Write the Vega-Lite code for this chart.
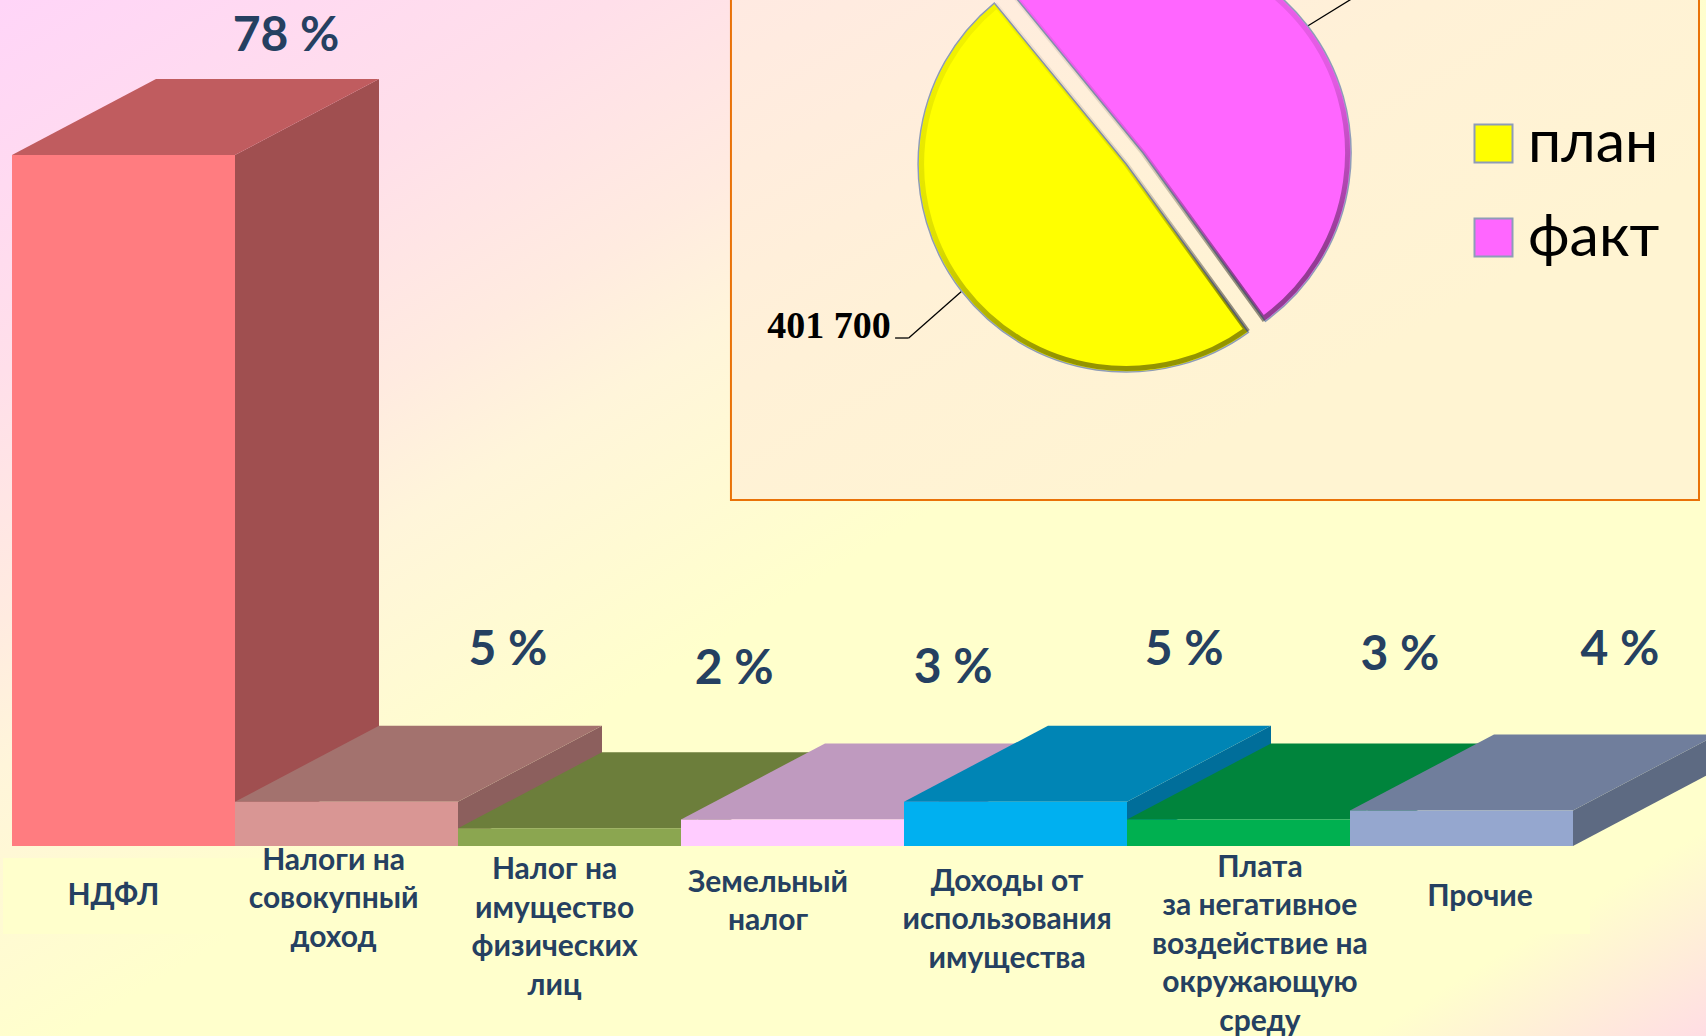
{
"$schema":"https://vega.github.io/schema/vega-lite/v6.json",
"width":1706,"height":1036,"padding":0,"autosize":{"type":"none"},
"background":"#FFFFCC",
"config":{"view":{"stroke":null},"axis":{"disable":true}},
"datasets":{
"bars":[
{"category":"НДФЛ","share":78,"order":0},
{"category":"Налоги на совокупный доход","share":5,"order":1},
{"category":"Налог на имущество физических лиц","share":2,"order":2},
{"category":"Земельный налог","share":3,"order":3},
{"category":"Доходы от использования имущества","share":5,"order":4},
{"category":"Плата за негативное воздействие на окружающую среду","share":3,"order":5},
{"category":"Прочие","share":4,"order":6}],
"names":[
{"text":["НДФЛ"],"at":0.455,"level":-5.64},
{"text":["Налоги на","совокупный","доход"],"at":1.442,"level":-1.66},
{"text":["Налог на","имущество","физических","лиц"],"at":2.433,"level":-2.71},
{"text":["Земельный","налог"],"at":3.39,"level":-4.14},
{"text":["Доходы от","использования","имущества"],"at":4.462,"level":-4.03},
{"text":["Плата","за негативное","воздействие на","окружающую","среду"],"at":5.596,"level":-2.45},
{"text":["Прочие"],"at":6.583,"level":-5.72}],
"percents":[
{"text":"78 %","at":1.229,"level":91.35},
{"text":"5 %","at":2.224,"level":22.05},
{"text":"2 %","at":3.238,"level":19.85},
{"text":"3 %","at":4.22,"level":19.95},
{"text":"5 %","at":5.256,"level":22.05},
{"text":"3 %","at":6.224,"level":21.5},
{"text":"4 %","at":7.21,"level":22.05}],
"pie":[{"series":"план","value":401700},{"series":"факт","value":416800}],
"leaders":[
{"a":4.26,"b":62.64,"a2":4.021,"b2":57.34},
{"a":4.021,"b":57.34,"a2":3.96,"b2":57.34},
{"a":5.803,"b":92.44,"a2":6.09,"b2":96.9}]
},
"data":{"name":"bars"},
"resolve":{"scale":{"color":"independent"}},
"layer":[
{"data":{"values":[{"a":-0.0538,"a2":7.5964,"b":-21.44,"b2":95.49}]},
 "mark":{"type":"rect","fill":{"gradient":"linear","x1":0,"y1":0,"x2":1,"y2":1,"stops":[
  {"offset":0,"color":"#FFD5F8"},{"offset":0.18,"color":"#FFDFEA"},{"offset":0.3,"color":"#FFEBE0"},{"offset":0.37,"color":"#FFF5DA"},{"offset":0.52,"color":"#FFFFCC"},{"offset":0.9,"color":"#FFFFCC"},{"offset":1,"color":"#FFDDE4"}]}},
 "encoding":{
  "x":{"field":"a","type":"quantitative","axis":null,"scale":{"domain":[-0.0538,7.5964],"nice":false,"zero":false}},
  "x2":{"field":"a2"},
  "y":{"field":"b","type":"quantitative","axis":null,"scale":{"domain":[-21.44,95.49],"nice":false,"zero":false}},
  "y2":{"field":"b2"}}},
{"data":{"values":[{"a":-0.04,"a2":7.076,"b":-9.93,"b2":-1.35}]},
 "mark":{"type":"rect","fill":"#FFFFCC"},
 "encoding":{"x":{"field":"a","type":"quantitative"},"x2":{"field":"a2"},"y":{"field":"b","type":"quantitative"},"y2":{"field":"b2"}}},
{"data":{"values":[{"a":3.224,"a2":7.565,"b":39.05,"b2":100}]},
 "mark":{"type":"rect","stroke":"#E97208","strokeWidth":2,"clip":true,"fill":{"gradient":"linear","x1":0,"y1":0,"x2":1,"y2":1,"stops":[{"offset":0,"color":"#FFE9E3"},{"offset":0.4,"color":"#FFF1D7"},{"offset":0.7,"color":"#FFF4D2"},{"offset":1,"color":"#FFF4D2"}]}},
 "encoding":{"x":{"field":"a","type":"quantitative"},"x2":{"field":"a2"},"y":{"field":"b","type":"quantitative"},"y2":{"field":"b2"}}},
{"transform":[{"calculate":"[0,1]","as":"t"},{"flatten":["t"]},
  {"calculate":"datum.order+1+datum.t*0.6457","as":"sx"},
  {"calculate":"datum.share+datum.t*8.578","as":"sy"},
  {"calculate":"datum.t*8.578","as":"sy0"}],
 "mark":{"type":"area","orient":"vertical","clip":true},
 "encoding":{
  "x":{"field":"sx","type":"quantitative"},
  "y":{"field":"sy","type":"quantitative"},
  "y2":{"field":"sy0"},
  "color":{"field":"category","type":"nominal","legend":null,"sort":null,"scale":{"domain":["НДФЛ","Налоги на совокупный доход","Налог на имущество физических лиц","Земельный налог","Доходы от использования имущества","Плата за негативное воздействие на окружающую среду","Прочие"],"range":["#A04F50","#8C5F5D","#5A6A32","#A081A0","#006E9A","#006E32","#5D6A82"]}}}},
{"transform":[{"calculate":"[0,1]","as":"t"},{"flatten":["t"]},
  {"calculate":"datum.order+datum.t*0.6457","as":"tx"},
  {"calculate":"datum.tx+1","as":"tx2"},
  {"calculate":"datum.share+datum.t*8.578","as":"ty"}],
 "mark":{"type":"area","orient":"horizontal","clip":true},
 "encoding":{
  "y":{"field":"ty","type":"quantitative"},
  "x":{"field":"tx","type":"quantitative"},
  "x2":{"field":"tx2"},
  "color":{"field":"category","type":"nominal","legend":null,"sort":null,"scale":{"domain":["НДФЛ","Налоги на совокупный доход","Налог на имущество физических лиц","Земельный налог","Доходы от использования имущества","Плата за негативное воздействие на окружающую среду","Прочие"],"range":["#C05C5F","#A3726E","#6C7E3B","#BF9ABF","#0085B5","#00843C","#707E9C"]}}}},
{"transform":[{"calculate":"datum.order+1","as":"fx2"},{"calculate":"0","as":"base"}],
 "mark":{"type":"rect"},
 "encoding":{
  "x":{"field":"order","type":"quantitative"},
  "x2":{"field":"fx2"},
  "y":{"field":"share","type":"quantitative"},
  "y2":{"field":"base"},
  "color":{"field":"category","type":"nominal","legend":null,"sort":null,"scale":{"domain":["НДФЛ","Налоги на совокупный доход","Налог на имущество физических лиц","Земельный налог","Доходы от использования имущества","Плата за негативное воздействие на окружающую среду","Прочие"],"range":["#FF7C80","#D99694","#8BA650","#FFCCFF","#00B0F0","#00B050","#95A7CF"]}}}},
{"data":{"name":"leaders"},"mark":{"type":"rule","color":"#000000","strokeWidth":1.3,"clip":true},
 "encoding":{"x":{"field":"a","type":"quantitative"},"y":{"field":"b","type":"quantitative"},"x2":{"field":"a2"},"y2":{"field":"b2"}}},
{"data":{"name":"pie"},
 "transform":[{"stack":"value","groupby":[],"as":["v0","v1"]},
  {"calculate":"datum.series==='план'?4.996:5.072","as":"cx"},
  {"calculate":"datum.series==='план'?76.98:78.22","as":"cy"}],
 "mark":{"type":"arc","radius":208,"stroke":"#8E9CB8","strokeWidth":1.5,"clip":true},
 "encoding":{
  "x":{"field":"cx","type":"quantitative"},
  "y":{"field":"cy","type":"quantitative"},
  "theta":{"field":"v0","type":"quantitative","stack":null,"scale":{"domain":[0,818500],"range":[2.5133,8.7965]}},
  "theta2":{"field":"v1"},
  "color":{"field":"series","type":"nominal","sort":null,"scale":{"domain":["план","факт"],"range":["#FFFF00","#FF66FF"]},
   "legend":{"orient":"none","legendX":1464,"legendY":114,"title":null,"symbolType":"square","symbolSize":1444,"symbolStrokeColor":"#8E9CB8","symbolStrokeWidth":2,"symbolOpacity":1,"labelFont":"Lato","labelFontSize":59,"labelColor":"#000000","labelOffset":5,"rowPadding":34,"labelLimit":300}}}},
{"data":{"name":"pie"},
 "transform":[{"stack":"value","groupby":[],"as":["v0","v1"]},
  {"calculate":"datum.series==='план'?4.996:5.072","as":"cx"},
  {"calculate":"datum.series==='план'?76.98:78.22","as":"cy"}],
 "mark":{"type":"arc","radius":204.5,"fill":null,"strokeWidth":5,"clip":true,"stroke":{"gradient":"linear","x1":0,"y1":0,"x2":0.3,"y2":1,"stops":[{"offset":0,"color":"rgba(0,0,0,0.04)"},{"offset":0.6,"color":"rgba(0,0,0,0.12)"},{"offset":1,"color":"rgba(0,0,0,0.42)"}]}},
 "encoding":{
  "x":{"field":"cx","type":"quantitative"},
  "y":{"field":"cy","type":"quantitative"},
  "theta":{"field":"v0","type":"quantitative","stack":null},
  "theta2":{"field":"v1"}}},
{"data":{"values":[{"text":"401 700","at":3.664,"level":58.55}]},
 "mark":{"type":"text","font":"Liberation Serif","fontWeight":"bold","fontSize":38,"color":"#000000","baseline":"middle","align":"center"},
 "encoding":{"x":{"field":"at","type":"quantitative"},"y":{"field":"level","type":"quantitative"},"text":{"field":"text"}}},
{"data":{"name":"percents"},
 "mark":{"type":"text","font":"Lato","fontWeight":"bold","fontSize":48,"color":"#254061","baseline":"middle","align":"center"},
 "encoding":{"x":{"field":"at","type":"quantitative"},"y":{"field":"level","type":"quantitative"},"text":{"field":"text"}}},
{"data":{"name":"names"},
 "mark":{"type":"text","font":"Lato","fontWeight":"bold","fontSize":30,"lineHeight":38.5,"color":"#254061","baseline":"middle","align":"center"},
 "encoding":{"x":{"field":"at","type":"quantitative"},"y":{"field":"level","type":"quantitative"},"text":{"field":"text"}}}
]
}
